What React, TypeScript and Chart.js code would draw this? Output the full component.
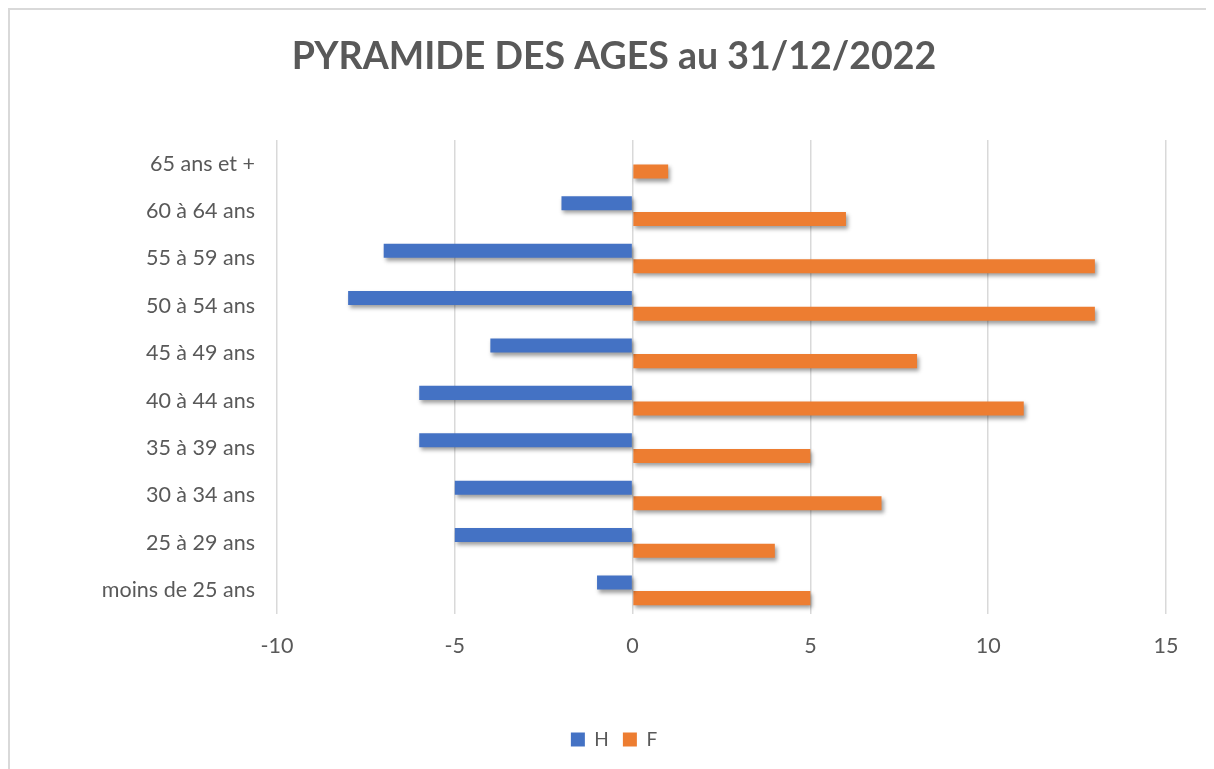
import React, { useEffect, useRef } from "react";
import { Chart, registerables } from "chart.js";

Chart.register(...registerables);

const categories = [
  "65 ans et +",
  "60 à 64 ans",
  "55 à 59 ans",
  "50 à 54 ans",
  "45 à 49 ans",
  "40 à 44 ans",
  "35 à 39 ans",
  "30 à 34 ans",
  "25 à 29 ans",
  "moins de 25 ans",
];
const hommes = [0, -2, -7, -8, -4, -6, -6, -5, -5, -1];
const femmes = [1, 6, 13, 13, 8, 11, 5, 7, 4, 5];
const xMin = -10;
const xMax = 15;
const xStep = 5;
const titleText = "PYRAMIDE DES AGES au 31/12/2022";

const TEXT = "#595959";
const FONT = "Lato";

const shadowPlugin = {
  id: "barShadow",
  beforeDatasetsDraw(chart: any) {
    const ctx = chart.ctx;
    ctx.save();
    ctx.shadowColor = "rgba(0,0,0,0.38)";
    ctx.shadowBlur = 4;
    ctx.shadowOffsetX = 2;
    ctx.shadowOffsetY = 3;
  },
  afterDatasetsDraw(chart: any) {
    chart.ctx.restore();
  },
};

export default function App() {
  const ref = useRef<HTMLCanvasElement>(null);
  useEffect(() => {
    if (!ref.current) return;
    const chart = new Chart(ref.current, {
      type: "bar",
      data: {
        labels: categories,
        datasets: [
          { label: "H", data: hommes, backgroundColor: "#4472C4", borderWidth: 0 },
          { label: "F", data: femmes, backgroundColor: "#ED7D31", borderWidth: 0 },
        ],
      },
      plugins: [shadowPlugin],
      options: {
        indexAxis: "y",
        responsive: false,
        animation: false,
        layout: { padding: { left: 52, right: 48, top: 0, bottom: 10 } },
        datasets: { bar: { categoryPercentage: 0.66, barPercentage: 0.9 } },
        plugins: {
          title: {
            display: true,
            text: titleText,
            color: TEXT,
            font: { family: FONT, size: 37.5, weight: "bold" },
            padding: { top: 24, bottom: 61 },
          },
          legend: {
            position: "bottom",
            labels: {
              color: TEXT,
              font: { family: FONT, size: 19 },
              boxWidth: 14,
              boxHeight: 14,
              padding: 14,
            },
          },
          tooltip: { enabled: false },
        },
        scales: {
          x: {
            min: xMin,
            max: xMax,
            ticks: { stepSize: xStep, color: TEXT, font: { family: FONT, size: 21.5 }, padding: 19 },
            grid: { color: "#d9d9d9", lineWidth: 1.5, drawTicks: false },
            border: { display: false },
            afterFit(scale: any) {
              scale.height = 102;
            },
          },
          y: {
            ticks: { color: TEXT, font: { family: FONT, size: 21.5 }, padding: 22 },
            grid: { display: false, drawTicks: false },
            border: { display: false },
            afterFit(scale: any) {
              scale.width = 215;
            },
          },
        },
      },
    } as any);
    return () => chart.destroy();
  }, []);
  return (
    <div
      style={{
        width: 1204,
        height: 759,
        borderTop: "2px solid #d9d9d9",
        borderLeft: "2px solid #d9d9d9",
        background: "#fff",
      }}
    >
      <canvas ref={ref} width={1204} height={759} style={{ display: "block" }} />
    </div>
  );
}
